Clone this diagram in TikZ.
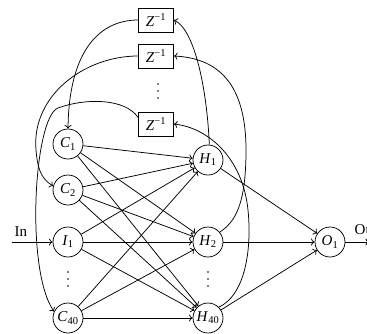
\documentclass[tikz,border=0pt]{standalone}
\usepackage{fontspec}
\setmainfont{Liberation Serif}
\usetikzlibrary{arrows.meta}
\newcommand\unit[2]{\textit{#1}\textsubscript{#2}}
\newcommand\delayop{\textit{Z}\textsuperscript{\char"2212 1}}
\begin{document}
\begin{tikzpicture}[x=1pt,y=-1pt,
  every path/.style={line width=0.75pt},
  >={To[length=3.6pt,width=7pt]},
  neuron/.style={circle,draw,minimum size=30pt,inner sep=0pt,font=\fontsize{15}{15}\selectfont},
  delaybox/.style={rectangle,draw,minimum width=35pt,minimum height=24pt,inner sep=0pt,font=\fontsize{15}{15}\selectfont},
  link/.style={->},
  plain/.style={font=\fontsize{15}{15}\selectfont},
  vdotsmark/.style={minimum width=4pt,minimum height=16pt,inner sep=0pt}]
\useasboundingbox (0,0) rectangle (367,333);

% input and context units
\node[neuron] (C1) at (68,144) {\unit{C}{1}};
\node[neuron] (C2) at (68,190) {\unit{C}{2}};
\node[neuron] (I1) at (68,242) {\unit{I}{1}};
\node[vdotsmark] (vd1) at (68,279) {};
\node[neuron] (C40) at (68,318) {\unit{C}{40}};

% hidden units
\node[neuron] (H1) at (208,160) {\unit{H}{1}};
\node[neuron] (H2) at (208,242) {\unit{H}{2}};
\node[vdotsmark] (vd2) at (208,279) {};
\node[neuron] (H40) at (208,318) {\unit{H}{40}};

% output unit
\node[neuron] (O1) at (330,242) {\unit{O}{1}};

% unit delays
\node[delaybox] (Z1) at (156,20) {\delayop};
\node[delaybox] (Z2) at (156,56) {\delayop};
\node[vdotsmark] (vd3) at (158,91) {};
\node[delaybox] (Z3) at (156,124) {\delayop};

% vertical ellipses
\foreach \v in {vd1,vd2,vd3}
  \foreach \d in {-7,0,7}
    \fill ([yshift=\d pt]\v.center) circle[radius=0.9pt];

% external input and output
\coordinate (inS) at (12,242);
\coordinate (outE) at (369,242);
\draw[link] (inS) -- (I1);
\node[plain,anchor=base west] (inL) at (11,236) {In};
\draw[link] (O1) -- (outE);
\node[plain,anchor=base west] (outL) at (351,234) {Out};

% feed-forward connections
\foreach \s in {C1,C2,I1,C40}
  \foreach \t in {H1,H2,H40}
    \draw[link] (\s) -- (\t);
\foreach \s in {H1,H2,H40}
  \draw[link] (\s) -- (O1);

% hidden states into the delays
\draw[link] (H1.85) .. controls (207,90) and (195,30) .. (Z1.east);
\draw[link] (H2.40) .. controls (235,222) and (246,205) .. (246,150)
  .. controls (246,80) and (215,58) .. (Z2.east);
\draw[link] (H40.45) .. controls (245,295) and (252,250) .. (248,210)
  .. controls (243,160) and (210,128) .. (Z3.east);

% delayed states back to the context units
\draw[link] (Z1.west) .. controls (100,20) and (69,50) .. (C1.north);
\draw[link] (Z2.west) to[out=180,in=95] (36,150) to[out=-85,in=150] (C2.165);
\draw[link] (Z3.160) .. controls (125,98) and (85,98) .. (58,108)
  .. controls (34,117) and (25,270) .. (C40.155);
\end{tikzpicture}
\end{document}
